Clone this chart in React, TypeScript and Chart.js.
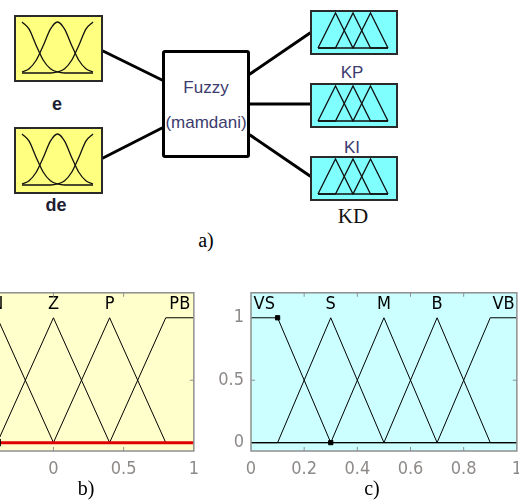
import React, { useEffect, useRef } from "react";
import { Chart, registerables } from "chart.js";
Chart.register(...registerables);

// ---------------- data ----------------
// b) input variable, universe [-1, 1]
const inBreaks = [-1, -0.8, -0.4, 0, 0.4, 0.8, 1];
const inNB = [1, 1, 0, 0, 0, 0, 0];
const inN = [0, 0, 1, 0, 0, 0, 0];
const inZ = [0, 0, 0, 1, 0, 0, 0];
const inP = [0, 0, 0, 0, 1, 0, 0];
const inPB = [0, 0, 0, 0, 0, 1, 1];
const inNames = ["NB", "N", "Z", "P", "PB"];
const inLabelAt = [-0.9, -0.4, 0, 0.4, 0.9];
const inXTicks = [-1, -0.5, 0, 0.5, 1];

// c) output variable, universe [0, 1]
const outBreaks = [0, 0.1, 0.3, 0.5, 0.7, 0.9, 1];
const outVS = [1, 1, 0, 0, 0, 0, 0];
const outS = [0, 0, 1, 0, 0, 0, 0];
const outM = [0, 0, 0, 1, 0, 0, 0];
const outB = [0, 0, 0, 0, 1, 0, 0];
const outVB = [0, 0, 0, 0, 0, 1, 1];
const outNames = ["VS", "S", "M", "B", "VB"];
const outLabelAt = [0.05, 0.3, 0.5, 0.7, 0.95];
const outXTicks = [0, 0.2, 0.4, 0.6, 0.8, 1];

const yTicks = [0, 0.5, 1];

// icons in the block diagram
const gaussX = [0, 0.1, 0.2, 0.3, 0.4, 0.5, 0.6, 0.7, 0.8, 0.9, 1];
const gaussLow = [1, 0.86, 0.54, 0.25, 0.085, 0.02, 0, 0, 0, 0, 0];
const gaussMid = [0.02, 0.085, 0.25, 0.54, 0.86, 1, 0.86, 0.54, 0.25, 0.085, 0.02];
const gaussHigh = [0, 0, 0, 0, 0, 0.02, 0.085, 0.25, 0.54, 0.86, 1];
const triX = [0, 0.25, 0.5, 0.75, 1];
const tri1 = [0, 1, 0, 0, 0];
const tri2 = [0, 0, 1, 0, 0];
const tri3 = [0, 0, 0, 1, 0];

// ---------------- styles ----------------
const NARROW = "'Liberation Sans Narrow', 'DejaVu Sans Condensed', 'Liberation Sans', Arial, sans-serif";
const SANS = "'Liberation Sans', Arial, sans-serif";
const SERIF = "'Liberation Serif', 'Times New Roman', serif";

const pts = (xs: number[], ys: number[]) => xs.map((x, i) => ({ x, y: ys[i] }));

const mfFrame = {
  id: "mfFrame",
  beforeDraw(chart: any, _a: any, o: any) {
    const { ctx, chartArea: a } = chart;
    ctx.save();
    ctx.fillStyle = o.bg;
    ctx.fillRect(a.left, a.top, a.right - a.left, a.bottom - a.top);
    ctx.restore();
  },
  afterDatasetsDraw(chart: any, _a: any, o: any) {
    const { ctx, chartArea: a, scales } = chart;
    ctx.save();
    ctx.fillStyle = "#000";
    ctx.font = `18px ${NARROW}`;
    ctx.textAlign = "center";
    ctx.textBaseline = "middle";
    o.names.forEach((n: string, i: number) => {
      ctx.fillText(n, scales.x.getPixelForValue(o.labelAt[i]), scales.y.getPixelForValue(1.11));
    });
    ctx.strokeStyle = "#8f8f8f";
    ctx.lineWidth = 1.5;
    ctx.strokeRect(a.left, a.top, a.right - a.left, a.bottom - a.top);
    ctx.lineWidth = 1;
    const tl = 4;
    scales.x.ticks.forEach((t: any) => {
      const px = scales.x.getPixelForValue(t.value);
      if (px <= a.left + 1 || px >= a.right - 1) return;
      ctx.beginPath();
      ctx.moveTo(px, a.bottom);
      ctx.lineTo(px, a.bottom - tl);
      ctx.moveTo(px, a.top);
      ctx.lineTo(px, a.top + tl);
      ctx.stroke();
    });
    scales.y.ticks.forEach((t: any) => {
      const py = scales.y.getPixelForValue(t.value);
      if (t.value !== 0.5) return;
      ctx.beginPath();
      ctx.moveTo(a.left, py);
      ctx.lineTo(a.left + tl, py);
      ctx.moveTo(a.right, py);
      ctx.lineTo(a.right - tl, py);
      ctx.stroke();
    });
    ctx.restore();
  },
};

function mfConfig(
  xMin: number,
  xMax: number,
  xTicks: number[],
  bg: string,
  names: string[],
  labelAt: number[],
  datasets: any[]
) {
  return {
    type: "scatter",
    data: { datasets },
    plugins: [mfFrame],
    options: {
      animation: false,
      responsive: false,
      maintainAspectRatio: false,
      layout: { padding: { left: 0, right: 10, top: 6, bottom: 0 } },
      plugins: {
        legend: { display: false },
        tooltip: { enabled: false },
        mfFrame: { bg, names, labelAt },
      },
      scales: {
        x: {
          type: "linear",
          min: xMin,
          max: xMax,
          grid: { display: false, drawTicks: false },
          border: { display: false },
          afterBuildTicks: (s: any) => {
            s.ticks = xTicks.map((v) => ({ value: v }));
          },
          afterFit: (s: any) => {
            s.height = 40;
          },
          ticks: {
            padding: 8,
            color: "#8e8a88",
            autoSkip: false,
            maxRotation: 0,
            font: { family: NARROW, size: 18 },
            callback: (v: any) => String(v),
          },
        },
        y: {
          type: "linear",
          min: -0.067,
          max: 1.2,
          grid: { display: false, drawTicks: false },
          border: { display: false },
          afterBuildTicks: (s: any) => {
            s.ticks = yTicks.map((v) => ({ value: v }));
          },
          afterFit: (s: any) => {
            s.width = 45;
          },
          ticks: {
            padding: 7,
            color: "#8e8a88",
            font: { family: NARROW, size: 18 },
            callback: (v: any) => String(v),
          },
        },
      },
    },
  };
}

const line = (xs: number[], ys: number[], extra: any = {}) => ({
  data: pts(xs, ys),
  showLine: true,
  borderColor: "#000",
  borderWidth: 1,
  pointRadius: 0,
  clip: false,
  ...extra,
});

function iconConfig(xs: number[], series: number[][], pad: any, smooth: boolean) {
  return {
    type: "scatter",
    data: {
      datasets: series.map((ys) =>
        line(xs, ys, {
          borderColor: "#111",
          borderWidth: 1.3,
          cubicInterpolationMode: smooth ? "monotone" : "default",
          tension: smooth ? 0.4 : 0,
        })
      ),
    },
    options: {
      animation: false,
      responsive: false,
      maintainAspectRatio: false,
      layout: { padding: pad },
      plugins: { legend: { display: false }, tooltip: { enabled: false } },
      scales: {
        x: { type: "linear", min: 0, max: 1, display: false },
        y: { type: "linear", min: 0, max: 1, display: false },
      },
    },
  };
}

function ChartCanvas(props: { left: number; top: number; width: number; height: number; make: () => any }) {
  const ref = useRef<HTMLCanvasElement | null>(null);
  useEffect(() => {
    if (!ref.current) return;
    const c = new Chart(ref.current, props.make());
    return () => c.destroy();
  }, []);
  return (
    <canvas
      ref={ref}
      width={props.width}
      height={props.height}
      style={{
        position: "absolute",
        left: props.left,
        top: props.top,
        width: props.width,
        height: props.height,
      }}
    />
  );
}

function Label(props: { cx: number; cy: number; text: string; style?: any }) {
  return (
    <div
      style={{
        position: "absolute",
        left: props.cx,
        top: props.cy,
        transform: "translate(-50%, -50%)",
        whiteSpace: "nowrap",
        lineHeight: 1,
        ...props.style,
      }}
    >
      {props.text}
    </div>
  );
}

function Box(props: { left: number; top: number; w: number; h: number; bg: string; border?: string; radius?: number }) {
  return (
    <div
      style={{
        position: "absolute",
        left: props.left,
        top: props.top,
        width: props.w,
        height: props.h,
        boxSizing: "border-box",
        background: props.bg,
        border: props.border || "2px solid #2a2a2a",
        borderRadius: props.radius || 0,
      }}
    />
  );
}

const inBoxes = [15, 127];
const outBoxes = [10, 83, 156];

export default function App() {
  const blue = "#3b3b6e";
  return (
    <div
      style={{
        position: "fixed",
        left: 0,
        top: 0,
        width: 519,
        height: 504,
        overflow: "hidden",
        background: "#fff",
      }}
    >
      <svg width={519} height={230} style={{ position: "absolute", left: 0, top: 0 }}>
        <g stroke="#000" strokeWidth={3} strokeLinecap="round">
          <line x1={103} y1={51} x2={162} y2={80} />
          <line x1={103} y1={158} x2={162} y2={128} />
          <line x1={250} y1={74} x2={310} y2={33} />
          <line x1={250} y1={104} x2={310} y2={104} />
          <line x1={250} y1={135} x2={310} y2={176} />
        </g>
      </svg>

      {inBoxes.map((t) => (
        <Box key={"i" + t} left={14} top={t} w={89} h={67} bg="#ffff80" />
      ))}
      {inBoxes.map((t) => (
        <ChartCanvas
          key={"ic" + t}
          left={18}
          top={t + 3}
          width={80}
          height={60}
          make={() =>
            iconConfig(gaussX, [gaussLow, gaussMid, gaussHigh], { left: 4, right: 5, top: 4, bottom: 5 }, true)
          }
        />
      ))}

      <Box left={162} top={50} w={88} h={108} bg="#fff" border="3px solid #000" radius={3} />
      <Label cx={206} cy={87} text="Fuzzy" style={{ fontFamily: SANS, fontSize: 17, color: blue }} />
      <Label cx={206} cy={122} text="(mamdani)" style={{ fontFamily: SANS, fontSize: 17, color: blue }} />

      {outBoxes.map((t) => (
        <Box key={"o" + t} left={310} top={t} w={88} h={45} bg="#80ffff" />
      ))}
      {outBoxes.map((t) => (
        <ChartCanvas
          key={"oc" + t}
          left={313}
          top={t + 1}
          width={80}
          height={41}
          make={() => iconConfig(triX, [tri1, tri2, tri3], { left: 5, right: 5, top: 2, bottom: 4 }, false)}
        />
      ))}

      <Label cx={57} cy={104} text="e" style={{ fontFamily: SANS, fontSize: 18, fontWeight: "bold", color: "#1d1d33" }} />
      <Label cx={56} cy={205} text="de" style={{ fontFamily: SANS, fontSize: 18, fontWeight: "bold", color: "#1d1d33" }} />
      <Label cx={352} cy={72} text="KP" style={{ fontFamily: SANS, fontSize: 17, color: blue }} />
      <Label cx={352} cy={147} text="KI" style={{ fontFamily: SANS, fontSize: 17, color: blue }} />
      <Label cx={353} cy={216} text="KD" style={{ fontFamily: SERIF, fontSize: 21, color: "#111" }} />
      <Label cx={206} cy={240} text="a)" style={{ fontFamily: SERIF, fontSize: 20, color: "#000" }} />

      <ChartCanvas
        left={-132}
        top={275}
        width={339}
        height={216}
        make={() =>
          mfConfig(-1, 1, inXTicks, "#ffffcc", inNames, inLabelAt, [
            line(inBreaks, inNB, {
              order: 0,
              borderColor: "#e00000",
              borderWidth: 3,
              pointStyle: "rect",
              pointBackgroundColor: "#000",
              pointBorderColor: "#000",
              pointRadius: (c: any) => (c.dataIndex === 2 ? 3 : 0),
            }),
            line(inBreaks, inN, { order: 2 }),
            line(inBreaks, inZ, { order: 2 }),
            line(inBreaks, inP, { order: 2 }),
            line(inBreaks, inPB, { order: 2 }),
          ])
        }
      />
      <ChartCanvas
        left={206}
        top={275}
        width={324}
        height={216}
        make={() =>
          mfConfig(0, 1, outXTicks, "#ccffff", outNames, outLabelAt, [
            line(outBreaks, outVS, {
              pointStyle: "rect",
              pointBackgroundColor: "#000",
              pointBorderColor: "#000",
              pointRadius: (c: any) => (c.dataIndex === 1 || c.dataIndex === 2 ? 3 : 0),
            }),
            line(outBreaks, outS),
            line(outBreaks, outM),
            line(outBreaks, outB),
            line(outBreaks, outVB),
          ])
        }
      />
      <Label cx={86} cy={488} text="b)" style={{ fontFamily: SERIF, fontSize: 20, color: "#000" }} />
      <Label cx={372} cy={488} text="c)" style={{ fontFamily: SERIF, fontSize: 20, color: "#000" }} />
    </div>
  );
}
